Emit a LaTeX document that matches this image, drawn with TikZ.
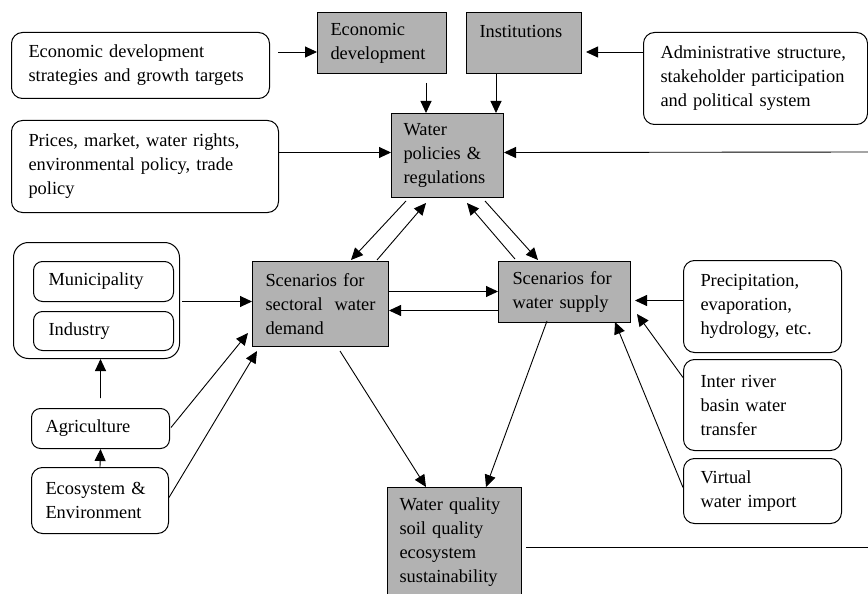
\documentclass[tikz,border=0pt]{standalone}
\usepackage{fontspec}
\setmainfont{Liberation Serif}
\usetikzlibrary{arrows.meta}
\tikzset{
  base/.style={draw, line width=1bp, anchor=north west, align=left, inner ysep=0pt,
    font=\fontsize{18.4bp}{24bp}\selectfont},
  rbox/.style={base, rounded corners=11bp},
  gbox/.style={base, fill=black!30},
  arr/.style={-{Triangle[length=12bp,width=11bp]}, line width=0.9bp},
  plain/.style={line width=0.9bp}
}
\begin{document}
\begin{tikzpicture}[x=1bp,y=-1bp]
\useasboundingbox (0,0) rectangle (868,594);
% top row
\node[rbox, inner xsep=17bp, text width=224bp, minimum width=258bp, minimum height=66bp] (strat) at (11,32)
  {Economic development\\strategies and growth targets};
\node[rbox, inner xsep=17bp, text width=233bp, minimum width=267bp, minimum height=92bp] (prices) at (11,120)
  {Prices, market, water rights,\\environmental policy, trade\\policy};
\node[gbox, inner xsep=13bp, text width=103bp, minimum width=129bp, minimum height=61bp] (econ) at (317,12)
  {Economic\\development};
\node[gbox, inner xsep=13bp, text width=89bp, minimum width=115bp, minimum height=61bp] (inst) at (466,12)
  {Institutions\\\mbox{}};
\node[rbox, inner xsep=17bp, text width=190bp, minimum width=224bp, minimum height=92bp] (admin) at (643,32)
  {Administrative structure,\\stakeholder participation\\and political system};
\node[gbox, inner xsep=12bp, text width=88bp, minimum width=112bp, minimum height=84bp] (policy) at (391,113)
  {Water\\policies \&\\regulations};
% left group
\node[draw, line width=1bp, rounded corners=15bp, anchor=north west, minimum width=166bp, minimum height=116bp, inner sep=0pt] (group) at (13,242) {};
\node[rbox, rounded corners=9bp, inner xsep=15bp, text width=110bp, minimum width=140bp, minimum height=40bp] (muni) at (33,261)
  {Municipality};
\node[rbox, rounded corners=9bp, inner xsep=15bp, text width=110bp, minimum width=140bp, minimum height=39bp] (ind) at (33,311)
  {Industry};
\node[rbox, rounded corners=9bp, inner xsep=14bp, text width=110bp, minimum width=138bp, minimum height=40bp] (agri) at (31,408)
  {Agriculture};
\node[rbox, inner xsep=14bp, text width=109bp, minimum width=137bp, minimum height=66bp] (eco) at (31,467)
  {Ecosystem \&\\Environment};
% centre
\node[gbox, inner xsep=12bp, text width=110bp, minimum width=136bp, minimum height=85bp] (demand) at (252,261)
  {Scenarios for\\sectoral\hfill water\\demand};
\node[gbox, inner xsep=14bp, text width=104bp, minimum width=132bp, minimum height=61bp] (supply) at (498,261)
  {Scenarios for\\water supply};
\node[gbox, inner xsep=12bp, text width=110bp, minimum width=134bp, minimum height=110bp] (quality) at (387,487)
  {Water quality\\soil quality\\ecosystem\\sustainability};
% right
\node[rbox, inner xsep=17bp, text width=124bp, minimum width=158bp, minimum height=92bp] (precip) at (683,260)
  {Precipitation,\\evaporation,\\hydrology, etc.};
\node[rbox, inner xsep=17bp, text width=124bp, minimum width=158bp, minimum height=91bp] (inter) at (683,359)
  {Inter river\\basin water\\transfer};
\node[rbox, inner xsep=17bp, text width=124bp, minimum width=158bp, minimum height=65bp] (virtual) at (683,458)
  {Virtual\\water import};
\coordinate (rin) at (868,152);
\coordinate (rout) at (868,547);
% connectors
\draw[arr] ([shift={(8,20)}]strat.north east) -- ([shift={(0,40)}]econ.north west);
\draw[arr] ([shift={(0,20)}]admin.north west) -- ([shift={(4,40)}]inst.north east);
\draw[arr] ([shift={(109,9)}]econ.south west) -- ([shift={(35,0)}]policy.north west);
\draw[arr] ([shift={(30,0)}]inst.south west) -- ([shift={(105,0)}]policy.north west);
\draw[arr] ([shift={(0,-14)}]prices.east) -- ([shift={(0,-3)}]policy.west);
\draw[arr] (rin) -- ([shift={(0,-3)}]policy.east);
\draw[arr] ([shift={(15,3)}]policy.south west) -- ([shift={(99,-1)}]demand.north west);
\draw[arr] ([shift={(125,-1)}]demand.north west) -- ([shift={(35,5)}]policy.south west);
\draw[arr] ([shift={(17,-2)}]supply.north west) -- ([shift={(76,5)}]policy.south west);
\draw[arr] ([shift={(94,3)}]policy.south west) -- ([shift={(40,-1)}]supply.north west);
\draw[arr] ([shift={(2,1)}]group.east) -- ([shift={(0,-2.5)}]demand.west);
\draw[arr] ([shift={(0,-10)}]agri.north) -- ([shift={(4,0)}]group.south);
\draw[arr] (eco.north) -- (agri.south);
\draw[arr] ([shift={(1,-1)}]agri.east) -- ([shift={(-4,-14)}]demand.south west);
\draw[arr] ([shift={(0,-3)}]eco.east) -- ([shift={(5,4)}]demand.south west);
\draw[arr] ([shift={(88,4)}]demand.south west) -- ([shift={(39,0)}]quality.north west);
\draw[arr] ([shift={(0,-12.5)}]demand.east) -- ([shift={(0,-0.5)}]supply.west);
\draw[arr] ([shift={(0,18.5)}]supply.west) -- ([shift={(0,6.5)}]demand.east);
\draw[arr] ([shift={(0,-6)}]precip.west) -- ([shift={(4,8.5)}]supply.east);
\draw[arr] ([shift={(0,-27.5)}]inter.west) -- ([shift={(6,-9)}]supply.south east);
\draw[arr] ([shift={(0,-3.5)}]virtual.west) -- ([shift={(-16,-1)}]supply.south east);
\draw[arr] ([shift={(49,-2)}]supply.south west) -- ([shift={(99,0)}]quality.north west);
\draw[plain] ([shift={(4,60)}]quality.north east) -- (rout);
\end{tikzpicture}
\end{document}
